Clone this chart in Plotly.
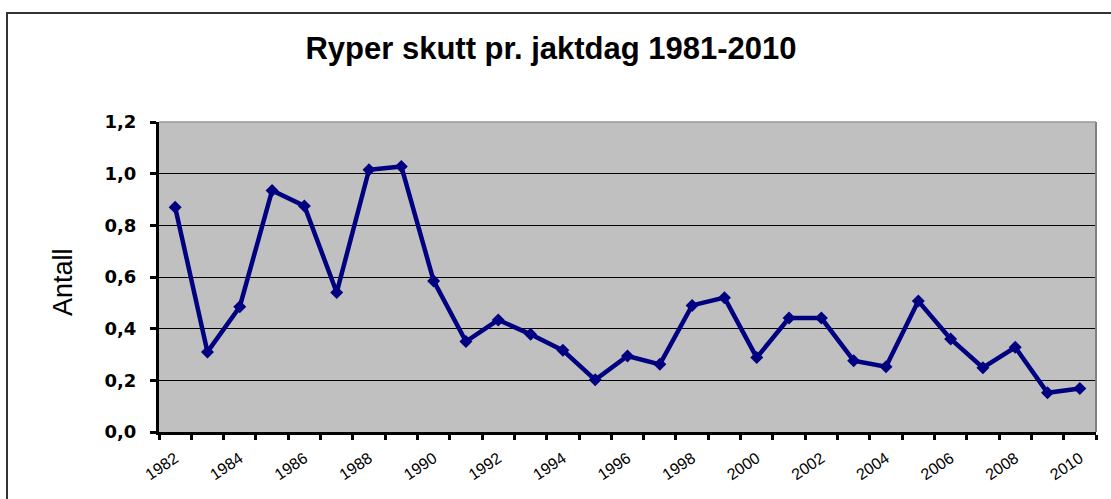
import plotly.graph_objects as go

years = list(range(1982, 2011))
values = [0.87, 0.31, 0.485, 0.935, 0.875, 0.54, 1.015, 1.028, 0.585, 0.35,
          0.434, 0.378, 0.316, 0.202, 0.294, 0.262, 0.49, 0.52, 0.288, 0.441,
          0.441, 0.276, 0.253, 0.507, 0.36, 0.249, 0.328, 0.152, 0.168]
label_years = [y for y in years if y % 2 == 0]
y_ticks = [0.0, 0.2, 0.4, 0.6, 0.8, 1.0, 1.2]

PW, PH = 937, 310  # plot area size in px

fig = go.Figure()
fig.add_trace(go.Scatter(
    x=years, y=values, mode="lines+markers",
    line=dict(color="#000080", width=4.5),
    marker=dict(symbol="diamond", size=10, color="#000080"),
    showlegend=False,
))

fig.update_layout(
    width=1111, height=499,
    margin=dict(l=159, r=15, t=122, b=67),
    paper_bgcolor="white",
    plot_bgcolor="#C0C0C0",
    separators=", ",
    font=dict(family="Liberation Sans, Arial, sans-serif", color="black"),
    title=dict(text="<b>Ryper skutt pr. jaktdag 1981-2010</b>",
               x=551 / 1111, xanchor="center", y=1 - 48 / 499, yanchor="middle",
               font=dict(size=31, color="black")),
    xaxis=dict(
        range=[min(years) - 0.5, max(years) + 0.5],
        tickmode="array", tickvals=label_years, ticktext=[str(y) for y in label_years],
        ticks="", tickangle=-34, tickfont=dict(size=16),
        ticklabelstandoff=8,
        showgrid=False, zeroline=False,
        showline=True, linecolor="black", linewidth=3,
        minor=dict(tickmode="array",
                   tickvals=[y - 0.5 for y in years] + [max(years) + 0.5],
                   ticks="outside", ticklen=5, tickwidth=2.5, tickcolor="black",
                   showgrid=False),
    ),
    yaxis=dict(
        range=[0, 1.2], tickmode="array", tickvals=y_ticks, tickformat=".1f",
        ticks="outside", ticklen=6, tickwidth=2.5, tickcolor="black",
        tickfont=dict(size=18, weight="bold", family="DejaVu Sans, Verdana, sans-serif"),
        ticklabelstandoff=10,
        showgrid=True, gridcolor="black", gridwidth=1,
        zeroline=False, showline=True, linecolor="black", linewidth=3,
    ),
    annotations=[
        dict(text="Antall", xref="paper", yref="paper",
             x=(63 - 159) / PW, y=(432 - 282) / PH, xanchor="center", yanchor="middle",
             textangle=-90, showarrow=False, font=dict(size=27, color="black")),
    ],
    shapes=[
        dict(type="line", xref="paper", yref="paper", x0=1, x1=1, y0=0, y1=1,
             line=dict(color="#808080", width=2)),
        dict(type="line", xref="paper", yref="paper", x0=0, x1=1, y0=1, y1=1,
             line=dict(color="#999999", width=1.5)),
        dict(type="rect", xref="paper", yref="paper",
             x0=(7 - 159) / PW, x1=(1130 - 159) / PW,
             y0=-80 / PH, y1=(432 - 13) / PH,
             line=dict(color="#333333", width=2), layer="below"),
    ],
)

fig.write_html("out.html", config={"displayModeBar": False},
               post_script="document.body.style.margin='0';document.body.style.overflow='hidden';")
